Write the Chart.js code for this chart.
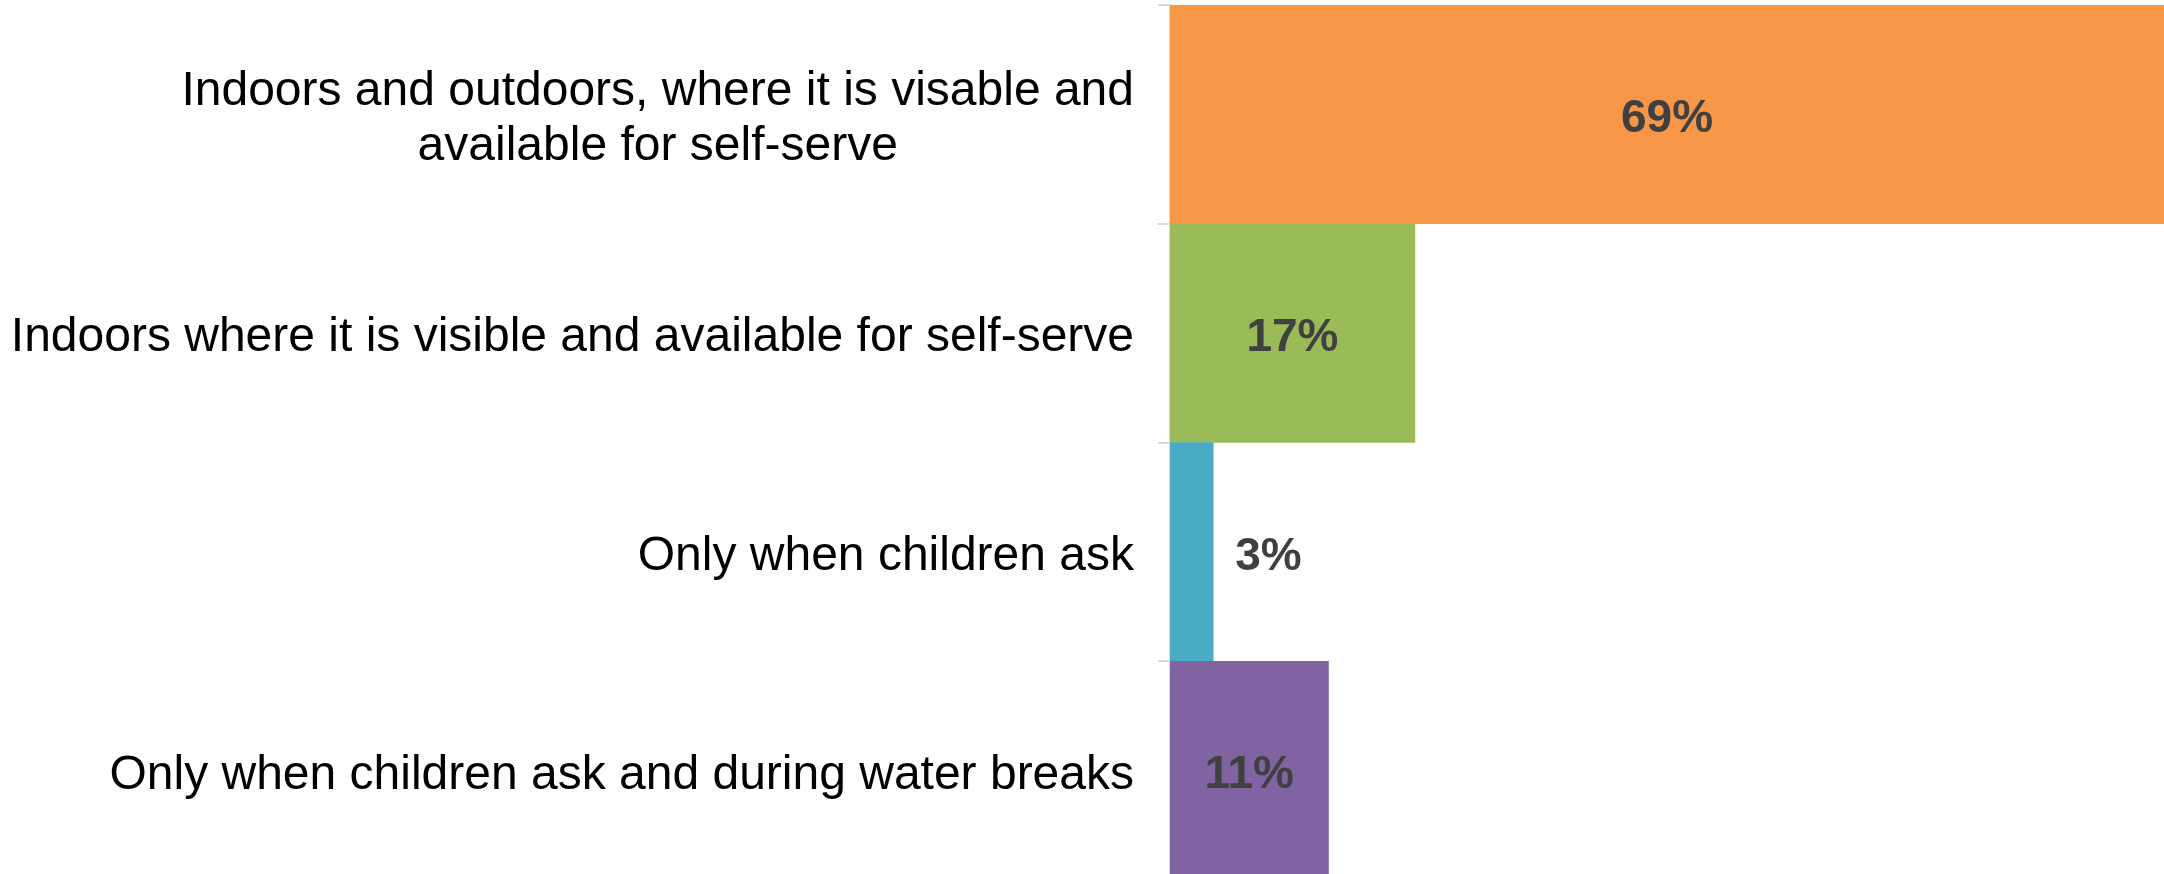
<!DOCTYPE html>
<html>
<head>
<meta charset="utf-8">
<script src="https://cdn.jsdelivr.net/npm/chart.js@4.4.1/dist/chart.umd.min.js"></script>
<style>
html, body { margin: 0; padding: 0; overflow: hidden; background: #fff; }
#wrap { position: absolute; left: 0; top: 0; width: 2164px; height: 880px; }
</style>
</head>
<body>
<div id="wrap"><canvas id="myChart"></canvas></div>
<script>
// Chart Data
var categories = [
    ['Indoors and outdoors, where it is visable and', 'available for self-serve'],
    'Indoors where it is visible and available for self-serve',
    'Only when children ask',
    'Only when children ask and during water breaks'
];
var shares = [69, 17, 3, 11];
var barColors = ['#F79646', '#9BBB59', '#4BACC6', '#8064A2'];

var LABEL_FONT = '48px "Liberation Sans", Arial, sans-serif';
var VALUE_FONT = 'bold 46px "Liberation Sans", Arial, sans-serif';
var AXIS_LEFT = 1170;
var TEXT_SHIFT = 5; // text sits a little below the band centre

// category labels, centred line by line like the original
var categoryLabels = {
    id: 'categoryLabels',
    afterDraw: function(chart) {
        var ctx = chart.ctx;
        var yScale = chart.scales.y;
        ctx.save();
        ctx.font = LABEL_FONT;
        ctx.fillStyle = '#000000';
        ctx.textBaseline = 'middle';
        categories.forEach(function(cat, i) {
            var lines = Array.isArray(cat) ? cat : [cat];
            var y = yScale.getPixelForValue(i) + TEXT_SHIFT;
            var right = AXIS_LEFT - 36;
            var lineH = 55;
            if (lines.length === 1) {
                ctx.textAlign = 'right';
                ctx.fillText(lines[0], right, y);
                return;
            }
            var maxW = Math.max.apply(null, lines.map(function(l) { return ctx.measureText(l).width; }));
            ctx.textAlign = 'center';
            lines.forEach(function(l, j) {
                ctx.fillText(l, right - maxW / 2, y + (j - (lines.length - 1) / 2) * lineH);
            });
        });
        ctx.restore();
    }
};

// percentage labels on the bars
var valueLabels = {
    id: 'valueLabels',
    afterDatasetsDraw: function(chart) {
        var ctx = chart.ctx;
        var meta = chart.getDatasetMeta(0);
        ctx.save();
        ctx.font = VALUE_FONT;
        ctx.fillStyle = '#404040';
        ctx.textBaseline = 'middle';
        meta.data.forEach(function(bar, i) {
            var text = shares[i] + '%';
            var tw = ctx.measureText(text).width;
            var right = Math.min(bar.x, chart.chartArea.right);
            var w = right - bar.base;
            var y = bar.y + TEXT_SHIFT;
            if (tw + 16 < w) {
                ctx.textAlign = 'center';
                ctx.fillText(text, bar.base + (bar.x - bar.base) / 2, y);
            } else {
                ctx.textAlign = 'left';
                ctx.fillText(text, bar.x + 22, y);
            }
        });
        ctx.restore();
    }
};

var ctx = document.getElementById('myChart').getContext('2d');
var myChart = new Chart(ctx, {
    type: 'bar',
    data: {
        labels: categories,
        datasets: [{
            data: shares,
            backgroundColor: barColors,
            borderWidth: 0,
            barPercentage: 1,
            categoryPercentage: 1
        }]
    },
    options: {
        indexAxis: 'y',
        responsive: true,
        maintainAspectRatio: false,
        animation: false,
        layout: { padding: { top: 5, right: 0, bottom: 0, left: 0 } },
        plugins: {
            legend: { display: false },
            tooltip: { enabled: false }
        },
        scales: {
            x: {
                display: false,
                min: 0,
                max: 69
            },
            y: {
                offset: true,
                grid: {
                    offset: true,
                    drawOnChartArea: false,
                    drawTicks: true,
                    tickLength: 12,
                    color: '#D9D9D9',
                    lineWidth: 2
                },
                border: { color: '#D9D9D9', width: 2 },
                ticks: { display: false },
                afterFit: function(scale) { scale.width = AXIS_LEFT; }
            }
        }
    },
    plugins: [categoryLabels, valueLabels]
});
</script>
</body>
</html>
